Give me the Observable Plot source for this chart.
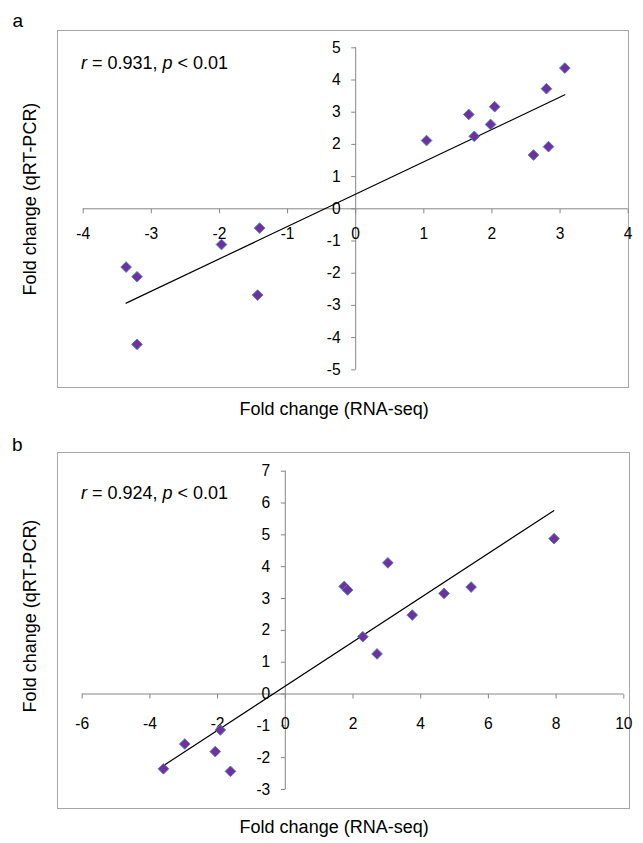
<!DOCTYPE html>
<html>
<head>
<meta charset="utf-8">
<script src="https://cdn.jsdelivr.net/npm/d3@7"></script>
<script src="https://cdn.jsdelivr.net/npm/@observablehq/plot@0.6"></script>
<style>
  html, body { margin: 0; padding: 0; background: #fff; }
  #root { position: relative; width: 643px; height: 843px; font-family: "Liberation Sans", Arial, sans-serif; color: #000; overflow: hidden; }
  .frame { position: absolute; border: 1.5px solid #a6a6a6; box-sizing: border-box; }
  .txt { position: absolute; white-space: nowrap; font-size: 18px; line-height: 18px; }
  .ytitle { position: absolute; width: 260px; text-align: center; font-size: 18px; line-height: 18px; transform: rotate(-90deg); transform-origin: 50% 50%; white-space: nowrap; }
  .letter { position: absolute; font-size: 19px; line-height: 19px; }
  .panel { position: absolute; left: 0; }
</style>
</head>
<body>
<div id="root"></div>
<script>
// ---------- Panel a data ----------
const aRnaSeq = [1.04, 1.66, 1.74, 1.98, 2.04, 2.61, 2.83, 2.80, 3.07, -3.37, -3.21, -3.21, -1.97, -1.41, -1.44];
const aQrtPcr = [2.12, 2.93, 2.25, 2.62, 3.17, 1.67, 1.93, 3.73, 4.37, -1.81, -2.11, -4.21, -1.11, -0.60, -2.68];
const aTrendX = [-3.37, 3.07];
const aTrendY = [-2.93, 3.54];
const aXTicks = [-4, -3, -2, -1, 0, 1, 2, 3, 4];
const aYTicks = [-5, -4, -3, -2, -1, 0, 1, 2, 3, 4, 5];
const aStat = "0.931";

// ---------- Panel b data ----------
const bRnaSeq = [1.74, 1.84, 3.03, 3.75, 4.69, 5.49, 7.94, 2.29, 2.71, -3.60, -2.97, -2.07, -1.92, -1.62];
const bQrtPcr = [3.38, 3.27, 4.12, 2.48, 3.16, 3.36, 4.88, 1.80, 1.26, -2.35, -1.57, -1.81, -1.13, -2.43];
const bTrendX = [-3.60, 7.93];
const bTrendY = [-2.25, 5.76];
const bXTicks = [-6, -4, -2, 0, 2, 4, 6, 8, 10];
const bYTicks = [-3, -2, -1, 0, 1, 2, 3, 4, 5, 6, 7];
const bStat = "0.924";

const xTitle = "Fold change (RNA-seq)";
const yTitle = "Fold change (qRT-PCR)";

const axisColor = "#868686";
const tickDown = { draw(ctx) { ctx.moveTo(0, 0); ctx.lineTo(0, 4.5); } };
const tickLeft = { draw(ctx) { ctx.moveTo(0, 0); ctx.lineTo(-4.5, 0); } };

function panel({xs, ys, tx, ty, xTicks, yTicks, xDomain, yDomain, height, margins, xLabelDy}) {
  const pts = xs.map((x, i) => ({x, y: ys[i]}));
  const trend = tx.map((x, i) => ({x, y: ty[i]}));
  return Plot.plot({
    width: 643,
    height,
    ...margins,
    x: {domain: xDomain},
    y: {domain: yDomain},
    axis: null,
    style: {fontFamily: "'Liberation Sans', Arial, sans-serif", fontSize: "15.6px", background: "transparent", overflow: "visible", color: "#000"},
    marks: [
      Plot.ruleY([0], {stroke: axisColor, strokeWidth: 1}),
      Plot.ruleX([0], {stroke: axisColor, strokeWidth: 1}),
      Plot.dot(xTicks, {x: d => d, y: 0, symbol: tickDown, fill: "none", stroke: axisColor, strokeWidth: 1}),
      Plot.dot(yTicks, {x: 0, y: d => d, symbol: tickLeft, fill: "none", stroke: axisColor, strokeWidth: 1}),
      Plot.text(xTicks, {x: d => d, y: 0, text: d => String(d), dy: xLabelDy, fill: "#000", textAnchor: "middle"}),
      Plot.text(yTicks, {x: 0, y: d => d, text: d => String(d), dx: -15, fill: "#000", textAnchor: "end"}),
      Plot.line(trend, {x: "x", y: "y", stroke: "#000", strokeWidth: 1.2}),
      Plot.dot(pts, {x: "x", y: "y", symbol: "diamond2", r: 4.8, fill: "#7030a0", stroke: "#4f81bd", strokeWidth: 1})
    ]
  });
}

const root = document.getElementById("root");

function addDiv(cls, style, html) {
  const d = document.createElement("div");
  d.className = cls;
  Object.assign(d.style, style);
  d.innerHTML = html;
  root.appendChild(d);
  return d;
}

// frames
addDiv("frame", {left: "57px", top: "30px", width: "572px", height: "358px"}, "");
addDiv("frame", {left: "57px", top: "452px", width: "573px", height: "357px"}, "");

// plots
const pa = panel({
  xs: aRnaSeq, ys: aQrtPcr, tx: aTrendX, ty: aTrendY, xTicks: aXTicks, yTicks: aYTicks,
  xDomain: [-4, 4], yDomain: [-5, 5], height: 421,
  margins: {marginTop: 47.3, marginBottom: 51.7, marginLeft: 82.7, marginRight: 15.3},
  xLabelDy: 25.5
});
pa.classList.add("panel");
pa.style.top = "0px";
root.appendChild(pa);

const pb = panel({
  xs: bRnaSeq, ys: bQrtPcr, tx: bTrendX, ty: bTrendY, xTicks: bXTicks, yTicks: bYTicks,
  xDomain: [-6, 10], yDomain: [-3, 7], height: 422,
  margins: {marginTop: 49.7, marginBottom: 54, marginLeft: 81.7, marginRight: 19.7},
  xLabelDy: 30
});
pb.classList.add("panel");
pb.style.top = "421px";
root.appendChild(pb);

// texts
addDiv("letter", {left: "12.5px", top: "10.6px"}, "a");
addDiv("letter", {left: "12px", top: "435px"}, "b");
addDiv("txt", {left: "81px", top: "54.2px"}, `<i>r</i> = ${aStat}, <i>p</i> &lt; 0.01`);
addDiv("txt", {left: "81px", top: "484.2px"}, `<i>r</i> = ${bStat}, <i>p</i> &lt; 0.01`);
addDiv("txt", {left: "239.6px", top: "399.8px"}, xTitle);
addDiv("txt", {left: "239.6px", top: "818px"}, xTitle);
addDiv("ytitle", {left: (29.5 - 130) + "px", top: (199 - 9) + "px"}, yTitle);
addDiv("ytitle", {left: (29.5 - 130) + "px", top: (616 - 9) + "px"}, yTitle);
</script>
</body>
</html>
